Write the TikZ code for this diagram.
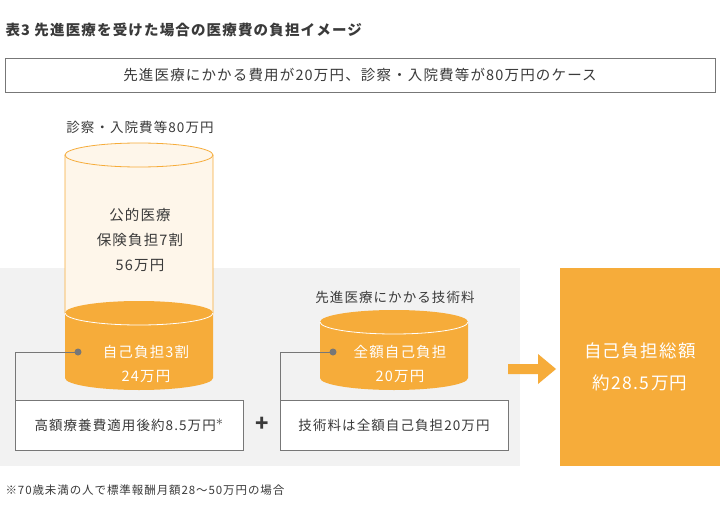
\documentclass[tikz,border=0pt]{standalone}
\usepackage{fontspec}
\setmainfont{Noto Sans CJK JP}[LetterSpace=8]
\definecolor{org}{HTML}{F6AC3A}
\definecolor{cream}{HTML}{FEF6EA}
\definecolor{txt}{HTML}{3A3A3A}
\definecolor{bgg}{HTML}{F2F2F2}
\definecolor{ln}{HTML}{777777}
\begin{document}
\begin{tikzpicture}[x=1pt,y=-1pt,
  lbl/.style={font=\fontsize{13.5}{17}\selectfont,text=txt,align=center},
  wlbl/.style={font=\fontsize{13.5}{17}\selectfont,text=white,align=center},
  box/.style={draw=ln,fill=white,line width=0.8pt},
  conn/.style={draw=ln,line width=0.8pt}]
\useasboundingbox (0,0) rectangle (720,519);
\fill[white] (0,0) rectangle (720,519);
\node[anchor=west,font=\bfseries\fontsize{14.5}{17}\selectfont,text=txt] (title) at (2,30) {表3\ 先進医療を受けた場合の医療費の負担イメージ};
\node[box,minimum width=710,minimum height=34,lbl,font=\fontsize{14.5}{17}\selectfont] (case) at (360,75) {先進医療にかかる費用が20万円、診察・入院費等が80万円のケース};
\fill[bgg] (0,268) rectangle (520,466);
\node[lbl] (l80) at (140,127) {診察・入院費等80万円};
% big cylinder
\fill[cream,draw=org,line width=0.8pt] (65,155) -- (65,313) arc[start angle=180,end angle=0,x radius=74,y radius=12] -- (213,155);
\fill[org] (65,313) -- (65,378) arc[start angle=180,end angle=0,x radius=74,y radius=12] -- (213,313) -- cycle;
\fill[org] (139,313) ellipse[x radius=74,y radius=12];
\draw[white,line width=0.8pt] (65,313) arc[start angle=180,end angle=0,x radius=74,y radius=12];
\draw[org,fill=cream,line width=0.8pt] (139,155) ellipse[x radius=74,y radius=12];
\node[lbl,font=\fontsize{14.5}{25}\selectfont] (pub) at (140,240) {公的医療\\保険負担7割\\56万円};
\node[wlbl,font=\fontsize{14.5}{24}\selectfont] (self) at (146,364) {自己負担3割\\24万円};
% small cylinder
\fill[org] (320,322) -- (320,378) arc[start angle=180,end angle=0,x radius=74,y radius=12] -- (468,322) -- cycle;
\fill[org] (394,322) ellipse[x radius=74,y radius=12];
\draw[white,line width=0.8pt] (320,322) arc[start angle=180,end angle=0,x radius=74,y radius=12];
\node[lbl] (tech) at (395,297) {先進医療にかかる技術料};
\node[wlbl,font=\fontsize{14.5}{24}\selectfont] (full) at (400,364) {全額自己負担\\20万円};
% boxes and connectors
\node[box,minimum width=228,minimum height=50,lbl] (b1) at (129,425) {高額療養費適用後約8.5万円$^{\textstyle *}$};
\node[box,minimum width=228,minimum height=50,lbl] (b2) at (394,425) {技術料は全額自己負担20万円};
\coordinate (d1) at (78,352);
\coordinate (d2) at (333,352);
\fill[ln] (d1) circle (3.5);
\fill[ln] (d2) circle (3.5);
\draw[conn] (d1) -- (15,352) -- (15,400);
\draw[conn] (d2) -- (280,352) -- (280,400);
\node[font=\bfseries\fontsize{22}{22}\selectfont,text=txt] (plus) at (262,424) {+};
% arrow
\fill[org] (508,364) -- (538,364) -- (538,354) -- (556,369) -- (538,384) -- (538,374) -- (508,374) -- cycle;
\fill[org] (560,268) rectangle (720,466);
\node[wlbl,font=\fontsize{17.5}{32}\selectfont] (tot) at (640,367) {自己負担総額\\約28.5万円};
\node[anchor=west,font=\fontsize{11.5}{14}\selectfont,text=txt] (note) at (2,490) {※70歳未満の人で標準報酬月額28～50万円の場合};
\end{tikzpicture}
\end{document}
